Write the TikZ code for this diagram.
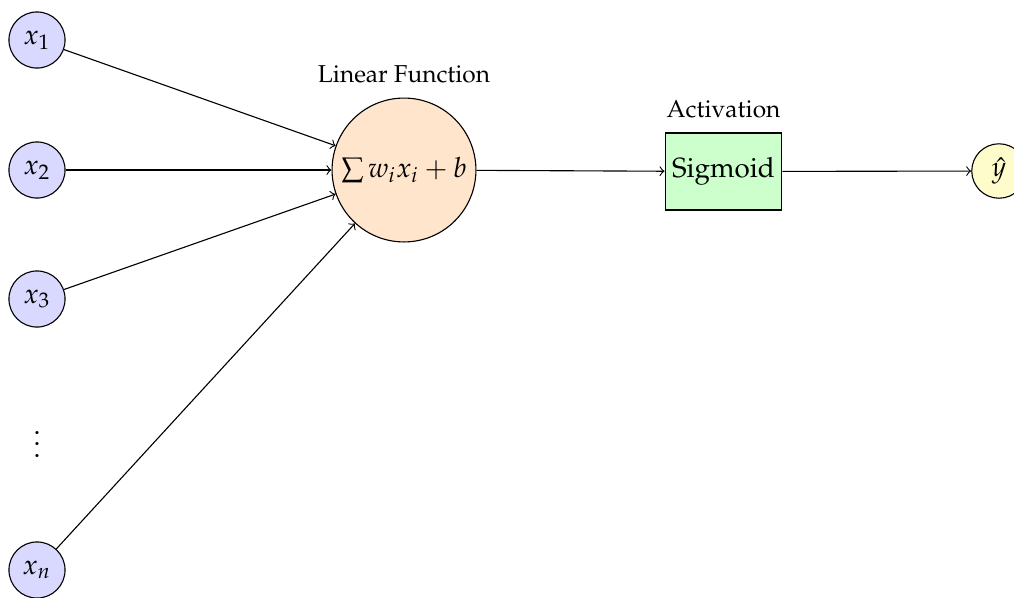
\documentclass[tikz,border=0pt]{standalone}
\usepackage[T1]{fontenc}
\usepackage{mathpazo}
\usetikzlibrary{positioning}
\begin{document}
\begin{tikzpicture}[x=0.36pt,y=-0.36pt,
  inp/.style={circle,draw,fill=blue!15,minimum size=20.2pt,inner sep=0pt,font=\fontsize{10}{12}\selectfont},
  outp/.style={circle,draw,fill=yellow!20,minimum size=19.6pt,inner sep=0pt,font=\fontsize{10}{12}\selectfont},
  sumnode/.style={circle,draw,fill=orange!20,minimum size=51.8pt,inner sep=0pt,font=\fontsize{10}{12}\selectfont},
  actbox/.style={rectangle,draw,fill=green!20,minimum width=42pt,minimum height=27.7pt,inner sep=0pt,font=\fontsize{10}{12}\selectfont},
  lbl/.style={inner sep=0pt,anchor=base,font=\fontsize{8.8}{10}\selectfont},
  conn/.style={->,line width=0.4pt}]
\useasboundingbox (0,0) rectangle (1014,597);
\node[inp] (x1) at (37,40) {$x_1$};
\node[inp] (x2) at (37,170) {$x_2$};
\node[inp] (x3) at (37,299) {$x_3$};
\node[inner sep=0pt,font=\fontsize{10}{12}\selectfont] (dots) at (37,436) {$\vdots$};
\node[inp] (xn) at (37,570) {$x_n$};
\node[sumnode] (sum) at (404,170) {$\sum w_i x_i + b$};
\node[actbox] (sig) at (723.5,171.5) {Sigmoid};
\node[outp] (y) at (999,171) {$\hat{y}$};
\node[lbl] (lin) at (404,82) {Linear Function};
\node[lbl] (act) at (723.5,117) {Activation};
\draw[conn] (x1) -- (sum);
\draw[conn] (x2) -- (sum);
\draw[conn] (x3) -- (sum);
\draw[conn] (xn) -- (sum);
\draw[conn] (sum) -- (sig);
\draw[conn] (sig) -- (y);
\end{tikzpicture}
\end{document}
